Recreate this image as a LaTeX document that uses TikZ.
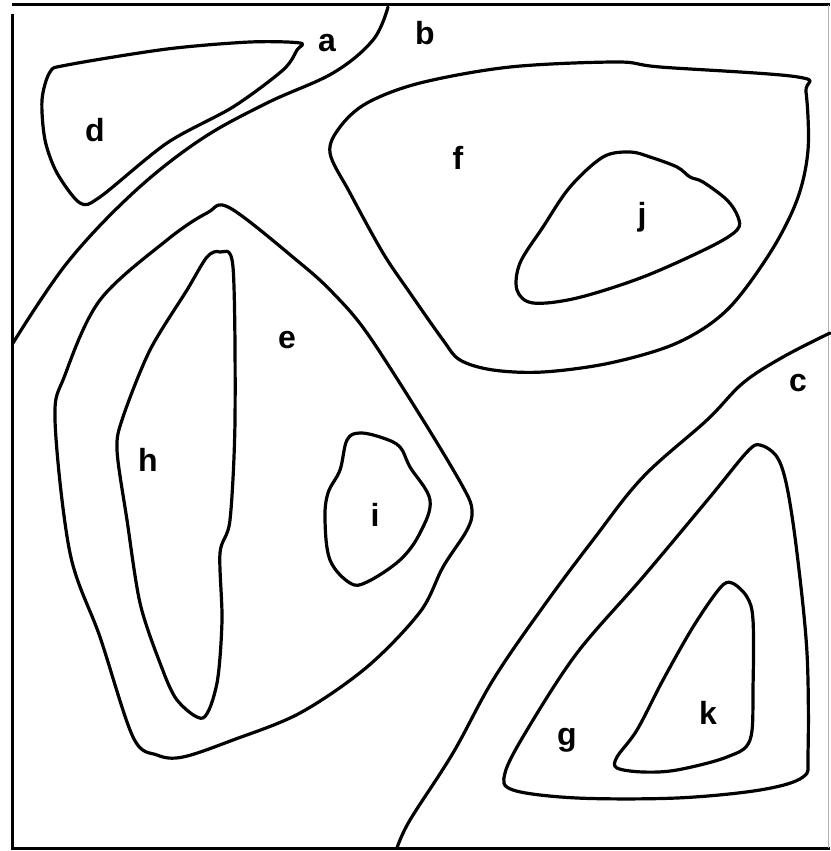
\documentclass[tikz,border=0pt]{standalone}
\usepackage{fontspec}
\setmainfont{Liberation Sans}
\begin{document}
\begin{tikzpicture}[x=1pt,y=-1pt,
  contour/.style={line width=3.2pt,line join=round,line cap=round},
  frameline/.style={line width=3pt},
  lbl/.style={font=\fontsize{32}{32}\selectfont\bfseries,inner sep=0pt}]
\useasboundingbox (0,0) rectangle (830,851);
% frame
\draw[frameline] (12,5) -- (830,5);
\draw[frameline] (12,14) -- (12,848) -- (830,848);
\draw[line width=0.6pt,gray!60] (828,5) -- (828,848);
% boundary a/b
\draw[contour] plot[smooth,tension=0.6] coordinates {(388,7) (373,40) (333,73) (267,103) (200,140) (133,193) (67,263) (13,343)};
% boundary c
\draw[contour] plot[smooth,tension=0.6] coordinates {(830,333) (783,357) (743,383) (707,420) (643,477) (593,540) (543,607) (493,680) (453,753) (410,820) (397,848)};
% region d
\draw[contour] plot[smooth cycle,tension=0.5] coordinates {(300,43) (250,42) (167,49) (67,65) (50,72) (42,100) (45,140) (57,173) (80,203) (100,197) (167,143) (233,107) (283,70) (297,50)};
% region f
\draw[contour] plot[smooth cycle,tension=0.55] coordinates {(420,83) (510,67) (617,62) (660,67) (798,77) (806,92) (808,150) (797,200) (770,253) (727,310) (677,343) (610,363) (543,372) (493,370) (460,360) (443,340) (410,293) (383,253) (350,193) (330,153) (340,127) (367,103)};
% region j
\draw[contour] plot[smooth cycle,tension=0.55] coordinates {(630,152) (603,157) (570,187) (543,227) (520,263) (517,290) (533,303) (577,298) (643,277) (710,247) (737,230) (738,217) (727,200) (703,182) (690,177) (677,167) (650,157)};
% region e
\draw[contour] plot[smooth cycle,tension=0.55] coordinates {(230,208) (207,213) (167,240) (100,300) (65,375) (55,420) (70,553) (100,637) (133,737) (157,755) (183,757) (233,740) (300,713) (367,667) (420,612) (443,567) (467,530) (472,510) (463,487) (423,420) (367,333) (333,293) (300,263)};
% region h
\draw[contour] plot[smooth cycle,tension=0.5] coordinates {(220,252) (207,257) (187,290) (150,350) (123,417) (117,450) (127,520) (140,603) (160,663) (177,700) (203,718) (217,683) (222,620) (220,553) (230,520) (235,420) (233,267)};
% region i
\draw[contour] plot[smooth cycle,tension=0.6] coordinates {(360,433) (347,440) (340,470) (328,493) (325,520) (330,560) (350,583) (367,582) (400,560) (420,533) (430,500) (410,467) (400,447) (383,438)};
% region g
\draw[contour] plot[smooth cycle,tension=0.55] coordinates {(760,445) (747,452) (710,497) (643,577) (577,653) (527,730) (505,773) (513,790) (577,798) (677,798) (760,790) (803,777) (808,753) (807,653) (797,553) (787,487) (777,457)};
% region k
\draw[contour] plot[smooth cycle,tension=0.55] coordinates {(732,583) (720,588) (693,627) (663,680) (637,730) (617,757) (617,768) (643,772) (677,770) (727,757) (750,740) (753,687) (753,620) (747,597)};
% labels
\node[lbl] (la) at (327,43) {a};
\node[lbl] (lb) at (425,33) {b};
\node[lbl] (lc) at (798,383) {c};
\node[lbl] (ld) at (95,130) {d};
\node[lbl] (le) at (287,340) {e};
\node[lbl] (lf) at (458,158) {f};
\node[lbl] (lg) at (567,740) {g};
\node[lbl] (lh) at (148,460) {h};
\node[lbl] (li) at (375,515) {i};
\node[lbl] (lj) at (642,217) {j};
\node[lbl] (lk) at (708,713) {k};
\end{tikzpicture}
\end{document}
